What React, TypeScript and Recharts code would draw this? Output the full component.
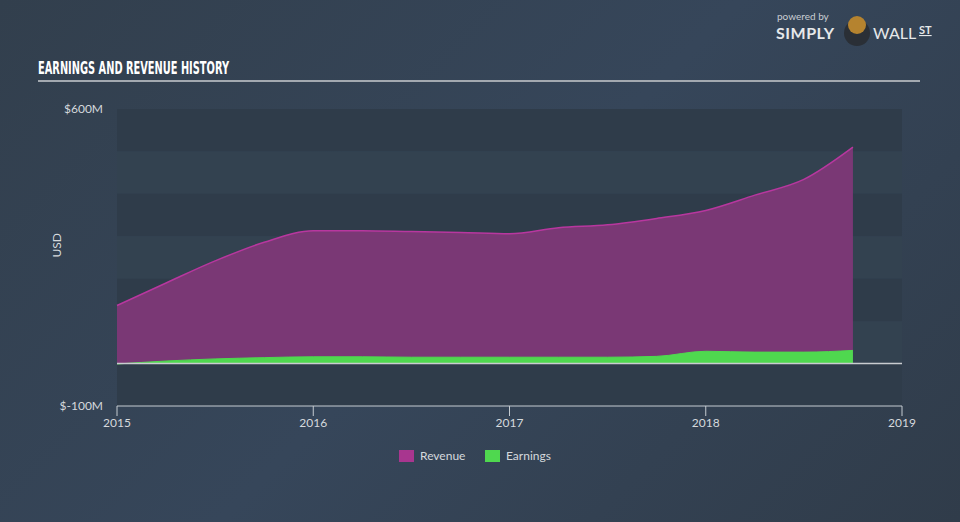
import React from 'react';
import {
  AreaChart,
  Area,
  XAxis,
  YAxis,
  ReferenceArea,
  ReferenceLine,
} from 'recharts';

// quarter positions as decimal years
const quarters = [
  2015, 2015.25, 2015.5, 2015.75, 2016, 2016.25, 2016.5, 2016.75, 2017, 2017.25,
  2017.5, 2017.75, 2018, 2018.25, 2018.5, 2018.75,
];

// $M
const revenue = [
  137, 190, 242, 286, 313, 313, 311, 309, 306, 320, 327, 342, 361, 397, 434, 510,
];
const earnings = [
  -1, 6, 11, 14, 16, 16, 15, 15, 15, 15, 15, 17, 29, 27, 27, 31,
];

const yearTicks = [2015, 2016, 2017, 2018, 2019];
const yTicks = [600, -100];
const bandEdges = [600, 500, 400, 300, 200, 100, 0, -100];

const data = quarters.map((t, i) => ({
  t,
  revenue: revenue[i],
  earnings: earnings[i],
}));

const BAND_DARK = '#2f3c4a';
const BAND_LIGHT = '#334250';
const TEXT = '#d5d9dd';
const FONT = 'Lato, "Open Sans", sans-serif';

function Header() {
  return (
    <svg
      width={960}
      height={100}
      style={{ position: 'absolute', left: 0, top: 0 }}
    >
      <text
        x={38}
        y={74}
        fill="#ffffff"
        fontFamily='"Liberation Sans Narrow", "DejaVu Sans Condensed", sans-serif'
        fontWeight="bold"
        fontSize={17}
        textLength={191}
        lengthAdjust="spacingAndGlyphs"
      >
        EARNINGS AND REVENUE HISTORY
      </text>
      <rect x={38} y={80} width={882} height={2} fill="#a3a9b0" />
      <text x={777} y={20} fill="#c9ced3" fontFamily={FONT} fontSize={10}>
        powered by
      </text>
      <text
        x={776}
        y={39}
        fill="#e6e8ea"
        fontFamily={FONT}
        fontWeight="bold"
        fontSize={16}
        letterSpacing={0.5}
      >
        SIMPLY
      </text>
      <circle cx={857} cy={33} r={13} fill="#2a2f36" />
      <circle cx={857} cy={25} r={9} fill="#b5832f" />
      <text x={873} y={39} fill="#e6e8ea" fontFamily={FONT} fontSize={16}>
        WALL
      </text>
      <text
        x={919}
        y={34}
        fill="#e6e8ea"
        fontFamily={FONT}
        fontWeight="bold"
        fontSize={11}
        textDecoration="underline"
      >
        ST
      </text>
    </svg>
  );
}

function LegendBox() {
  const items = [
    { label: 'Revenue', color: '#a8368f', x: 399 },
    { label: 'Earnings', color: '#4fd84f', x: 485 },
  ];
  return (
    <div style={{ position: 'absolute', left: 0, top: 448 }}>
      {items.map((it) => (
        <div
          key={it.label}
          style={{
            position: 'absolute',
            left: it.x,
            top: 0,
            display: 'flex',
            alignItems: 'center',
            whiteSpace: 'nowrap',
          }}
        >
          <span
            style={{
              width: 15,
              height: 12,
              background: it.color,
              display: 'inline-block',
              marginRight: 6,
            }}
          />
          <span style={{ color: TEXT, fontFamily: FONT, fontSize: 12 }}>
            {it.label}
          </span>
        </div>
      ))}
    </div>
  );
}

export default function App() {
  const bands = bandEdges.slice(0, -1).map((top, i) => ({
    y1: bandEdges[i + 1],
    y2: top,
    fill: i % 2 === 0 ? BAND_DARK : BAND_LIGHT,
  }));

  return (
    <div
      style={{
        position: 'absolute',
        left: 0,
        top: 0,
        width: 960,
        height: 522,
        background: `linear-gradient(135deg, #323f4d 0%, #36465a 50%, #303c4a 100%)`,
        overflow: 'hidden',
      }}
    >
      <Header />
      <AreaChart
        width={960}
        height={522}
        data={data}
        margin={{ top: 109, right: 58, bottom: 86, left: 47 }}
        style={{ position: 'absolute', left: 0, top: 0 }}
      >
        {bands.map((b) => (
          <ReferenceArea
            key={b.y2}
            y1={b.y1}
            y2={b.y2}
            fill={b.fill}
            fillOpacity={1}
            stroke="none"
            ifOverflow="visible"
          />
        ))}
        <XAxis
          dataKey="t"
          type="number"
          domain={[2015, 2019]}
          ticks={yearTicks}
          height={30}
          stroke="#c5cbd1"
          tickLine={{ stroke: '#c5cbd1' }}
          tickSize={10}
          tick={{ fill: TEXT, fontSize: 12, fontFamily: FONT }}
          tickMargin={2}
        />
        <YAxis
          type="number"
          domain={[-100, 600]}
          ticks={yTicks}
          width={70}
          axisLine={false}
          tickLine={false}
          tickFormatter={(v: number) => `$${v}M`}
          tick={{ fill: TEXT, fontSize: 12, fontFamily: FONT }}
          tickMargin={8}
          label={{
            value: 'USD',
            angle: -90,
            position: 'insideLeft',
            offset: 10,
            fill: TEXT,
            fontSize: 12,
            fontFamily: FONT,
          }}
        />
        <Area
          type="monotone"
          dataKey="revenue"
          stroke="#b8379f"
          strokeWidth={1.5}
          fill="#7a3875"
          fillOpacity={1}
          isAnimationActive={false}
        />
        <Area
          type="monotone"
          dataKey="earnings"
          stroke="#4fd84f"
          strokeWidth={1}
          fill="#4fd84f"
          fillOpacity={1}
          isAnimationActive={false}
        />
        <ReferenceLine y={0} stroke="#c9ccd0" strokeWidth={1.5} />
      </AreaChart>
      <LegendBox />
    </div>
  );
}
